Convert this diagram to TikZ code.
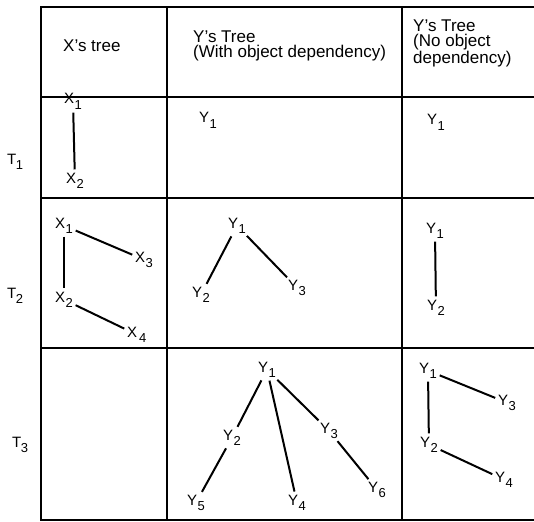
\documentclass[tikz,border=0pt]{standalone}
\usepackage{fontspec}
\setmainfont{Liberation Sans}
\newcommand\lbl[2]{#1\kern0.3pt\raisebox{-5.5pt}{\fontsize{13}{13}\selectfont #2}}
\newcommand\tlbl[1]{T\kern-0.6pt\raisebox{-5pt}{\fontsize{13}{13}\selectfont #1}}
\tikzset{
  grid/.style={line width=2.4pt, line cap=rect},
  lab/.style={inner sep=0pt, anchor=base west, font=\fontsize{15}{15}\selectfont},
  head/.style={inner sep=0pt, font=\fontsize{17}{15}\selectfont, align=left},
  edge/.style={line width=2pt, shorten <=3pt, shorten >=3pt},
}
\begin{document}
\begin{tikzpicture}[x=1pt,y=-1pt]
\useasboundingbox (0,0) rectangle (534,521);
% table grid
\foreach \yy in {7,97,198,348,520} \draw[grid] (41,\yy) -- (536,\yy);
\foreach \xx in {41,167,402} \draw[grid] (\xx,7) -- (\xx,520);
% headers
\node[head, anchor=base west] (hx) at (63,52) {X’s tree};
\node[head, anchor=north west] (hy) at (193,30.5) {Y’s Tree\\(With object dependency)};
\node[head, anchor=north west] (hz) at (413,20) {Y’s Tree\\(No object\\dependency)};
% row labels
\node[lab] (t1) at (7,165) {\tlbl{1}};
\node[lab] (t2) at (7,298) {\tlbl{2}};
\node[lab] (t3) at (12,447) {\tlbl{3}};
% row 1
\node[lab] (a1) at (64,104) {\lbl{X}{1}};
\node[lab] (a2) at (66,183) {\lbl{X}{2}};
\node[lab] (b1) at (199,123) {\lbl{Y}{1}};
\node[lab] (c1) at (427,125) {\lbl{Y}{1}};
\draw[edge] (a1) -- (a2);
% row 2
\node[lab] (d1) at (55,228) {\lbl{X}{1}};
\node[lab] (d3) at (135,262) {\lbl{X}{3}};
\node[lab] (d2) at (55,302) {\lbl{X}{2}};
\node[lab] (d4) at (127,337) {\lbl{X}{\kern1.5pt4}};
\draw[edge] (d1) -- (d3);
\draw[edge] (d1) -- (d2);
\draw[edge] (d2) -- (d4);
\node[lab] (e1) at (228,228) {\lbl{Y}{1}};
\node[lab] (e2) at (192,297) {\lbl{Y}{2}};
\node[lab] (e3) at (288,290) {\lbl{Y}{3}};
\draw[edge] (e1) -- (e2);
\draw[edge] (e1) -- (e3);
\node[lab] (f1) at (426,233) {\lbl{Y}{1}};
\node[lab] (f2) at (427,310) {\lbl{Y}{2}};
\draw[edge] (f1) -- (f2);
% row 3
\node[lab] (g1) at (258,372) {\lbl{Y}{1}};
\node[lab] (g2) at (223,440) {\lbl{Y}{2}};
\node[lab] (g3) at (320,433) {\lbl{Y}{3}};
\node[lab] (g5) at (187,505) {\lbl{Y}{5}};
\node[lab] (g4) at (288,505) {\lbl{Y}{4}};
\node[lab] (g6) at (368,492) {\lbl{Y}{6}};
\draw[edge] (g1) -- (g2);
\draw[edge] (g1) -- (g4);
\draw[edge] (g1) -- (g3);
\draw[edge] (g2) -- (g5);
\draw[edge] (g3) -- (g6);
\node[lab] (h1) at (419,373) {\lbl{Y}{1}};
\node[lab] (h3) at (498,405) {\lbl{Y}{3}};
\node[lab] (h2) at (420,447) {\lbl{Y}{2}};
\node[lab] (h4) at (495,482) {\lbl{Y}{4}};
\draw[edge] (h1) -- (h3);
\draw[edge] (h1) -- (h2);
\draw[edge] (h2) -- (h4);
\end{tikzpicture}
\end{document}
